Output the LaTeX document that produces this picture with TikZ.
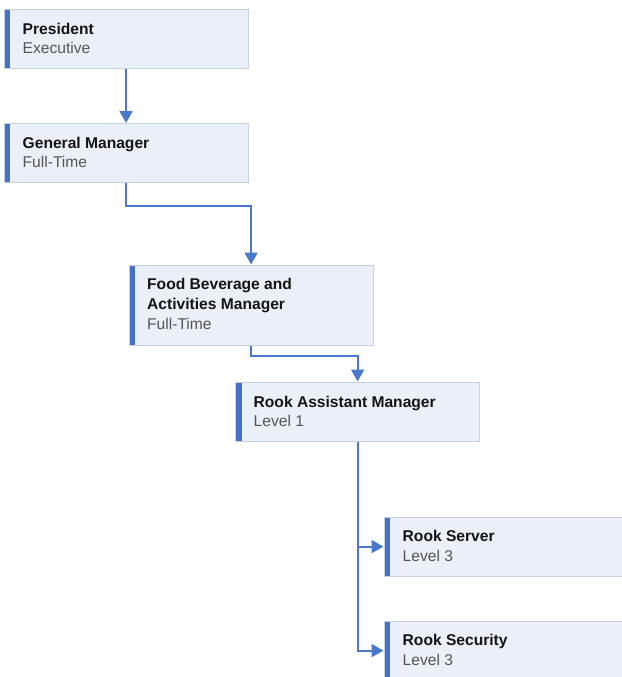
\documentclass[tikz,border=0pt]{standalone}
\usepackage{fontspec}
\setmainfont{Liberation Sans}
\usetikzlibrary{arrows.meta}
\definecolor{boxfill}{HTML}{EBEFF8}
\definecolor{boxline}{HTML}{C5D1EA}
\definecolor{barblue}{HTML}{4472C4}
\definecolor{linkblue}{HTML}{4A78CD}
\definecolor{titlec}{HTML}{141414}
\definecolor{subc}{HTML}{555555}
\begin{document}
\begin{tikzpicture}[x=1pt,y=-1pt,
  card/.style={draw=boxline, line width=1.2pt, fill=boxfill, minimum width=244pt,
    minimum height=59pt, anchor=north west, inner sep=0pt,
    path picture={\fill[barblue] (path picture bounding box.north west) rectangle ([xshift=6pt]path picture bounding box.south west);}},
  ttl/.style={anchor=base west, inner sep=0pt, font=\fontsize{15.6}{19}\selectfont\bfseries, text=titlec},
  sub/.style={anchor=base west, inner sep=0pt, font=\fontsize{15.6}{19}\selectfont, text=subc},
  link/.style={draw=linkblue, line width=2pt, -{Triangle[length=12pt,width=13pt]}}]
\useasboundingbox (0,0) rectangle (621,677);
% boxes
\node[card] (pres) at (3.5,9) {};
\node[card] (gm) at (3.5,123) {};
\node[card, minimum height=80pt] (food) at (128.5,264.5) {};
\node[card] (ram) at (235,381.5) {};
\node[card] (server) at (383.5,516.5) {};
\node[card] (sec) at (383.5,620.5) {};
% texts
\node[ttl] (presT) at (22.5,34.5) {President};
\node[sub] (presS) at (22.5,53.5) {Executive};
\node[ttl] (gmT) at (22.5,148.5) {General Manager};
\node[sub] (gmS) at (22.5,167.5) {Full-Time};
\node[ttl] (foodT1) at (147,289) {Food Beverage and};
\node[ttl] (foodT2) at (147,309.3) {Activities Manager};
\node[sub] (foodS) at (147,329.3) {Full-Time};
\node[ttl] (ramT) at (253.5,407.3) {Rook Assistant Manager};
\node[sub] (ramS) at (253.5,426.7) {Level 1};
\node[ttl] (serverT) at (402.5,541) {Rook Server};
\node[sub] (serverS) at (402.5,561) {Level 3};
\node[ttl] (secT) at (402.5,645) {Rook Security};
\node[sub] (secS) at (402.5,665) {Level 3};
% connectors
\draw[link] (pres.south) -- (gm.north);
\draw[link] (gm.south) -- ++(0,22.3) -| (food.north);
\draw[link] (food.south) -- ++(0,10.7) -| (ram.north);
\draw[link] (ram.south) |- (server.west);
\draw[link] (ram.south) |- (sec.west);
\end{tikzpicture}
\end{document}
